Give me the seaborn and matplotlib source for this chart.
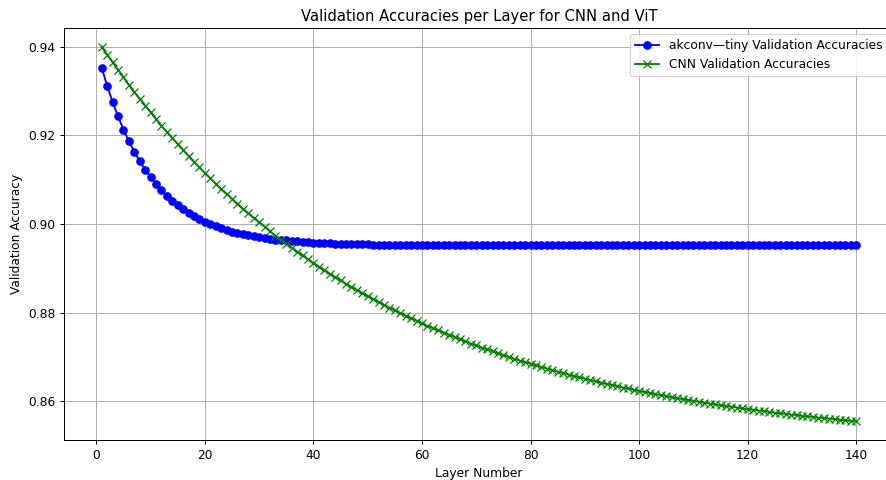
import matplotlib
matplotlib.use("Agg")
import matplotlib.pyplot as plt
import seaborn as sns

# Validation accuracy per layer
layers = list(range(1, 141))

akconv_acc = [
    0.9352, 0.9312, 0.9275, 0.9243, 0.9213, 0.9187, 0.9163, 0.9142, 0.9123, 0.9106,
    0.9090, 0.9076, 0.9064, 0.9052, 0.9042, 0.9033, 0.9025, 0.9018, 0.9011, 0.9005,
    0.9000, 0.8995, 0.8991, 0.8987, 0.8983, 0.8980, 0.8977, 0.8975, 0.8972, 0.8970,
    0.8968, 0.8967, 0.8965, 0.8964, 0.8963, 0.8962, 0.8961, 0.8960, 0.8959, 0.8958,
    0.8958, 0.8957, 0.8957, 0.8956, 0.8956, 0.8955, 0.8955, 0.8955, 0.8954, 0.8954,
    0.8952, 0.8952, 0.8952, 0.8952, 0.8952, 0.8952, 0.8952, 0.8952, 0.8952, 0.8952,
    0.8952, 0.8952, 0.8952, 0.8952, 0.8952, 0.8952, 0.8952, 0.8952, 0.8952, 0.8952,
    0.8952, 0.8952, 0.8952, 0.8952, 0.8952, 0.8952, 0.8952, 0.8952, 0.8952, 0.8952,
    0.8952, 0.8952, 0.8952, 0.8952, 0.8952, 0.8952, 0.8952, 0.8952, 0.8952, 0.8952,
    0.8952, 0.8952, 0.8952, 0.8952, 0.8952, 0.8952, 0.8952, 0.8952, 0.8952, 0.8952,
    0.8952, 0.8952, 0.8952, 0.8952, 0.8952, 0.8952, 0.8952, 0.8952, 0.8952, 0.8952,
    0.8952, 0.8952, 0.8952, 0.8952, 0.8952, 0.8952, 0.8952, 0.8952, 0.8952, 0.8952,
    0.8952, 0.8952, 0.8952, 0.8952, 0.8952, 0.8952, 0.8952, 0.8952, 0.8952, 0.8952,
    0.8952, 0.8952, 0.8952, 0.8952, 0.8952, 0.8952, 0.8952, 0.8952, 0.8952, 0.8952,
]

cnn_acc = [
    0.9400, 0.9382, 0.9365, 0.9348, 0.9331, 0.9314, 0.9298, 0.9282, 0.9267, 0.9252,
    0.9237, 0.9222, 0.9208, 0.9194, 0.9180, 0.9167, 0.9153, 0.9140, 0.9128, 0.9115,
    0.9103, 0.9091, 0.9079, 0.9068, 0.9057, 0.9046, 0.9035, 0.9024, 0.9014, 0.9004,
    0.8994, 0.8984, 0.8974, 0.8965, 0.8956, 0.8947, 0.8938, 0.8929, 0.8920, 0.8912,
    0.8904, 0.8896, 0.8888, 0.8880, 0.8873, 0.8865, 0.8858, 0.8851, 0.8844, 0.8837,
    0.8831, 0.8824, 0.8818, 0.8811, 0.8805, 0.8799, 0.8793, 0.8787, 0.8782, 0.8776,
    0.8770, 0.8765, 0.8760, 0.8755, 0.8750, 0.8745, 0.8740, 0.8735, 0.8730, 0.8726,
    0.8721, 0.8717, 0.8713, 0.8708, 0.8704, 0.8700, 0.8696, 0.8692, 0.8688, 0.8685,
    0.8681, 0.8677, 0.8674, 0.8670, 0.8667, 0.8664, 0.8660, 0.8657, 0.8654, 0.8651,
    0.8648, 0.8645, 0.8642, 0.8639, 0.8637, 0.8634, 0.8631, 0.8629, 0.8626, 0.8623,
    0.8621, 0.8619, 0.8616, 0.8614, 0.8612, 0.8609, 0.8607, 0.8605, 0.8603, 0.8601,
    0.8599, 0.8597, 0.8595, 0.8593, 0.8591, 0.8589, 0.8588, 0.8586, 0.8584, 0.8582,
    0.8581, 0.8579, 0.8578, 0.8576, 0.8574, 0.8573, 0.8572, 0.8570, 0.8569, 0.8567,
    0.8566, 0.8565, 0.8563, 0.8562, 0.8561, 0.8560, 0.8558, 0.8557, 0.8556, 0.8555,
]

# original looks like a 10in figure shrunk to 886px, so use a lower dpi
fig = plt.figure(figsize=(10, 480 / 88.6), dpi=88.6)
# axes run a little past the right edge, like the cropped original
ax = fig.add_axes([64 / 886, 40 / 480, 830 / 886, 412 / 480])

sns.lineplot(x=layers, y=akconv_acc, ax=ax, color="blue", marker="o",
             markersize=6, markeredgecolor="blue", markeredgewidth=1,
             label="akconv\u2014tiny Validation Accuracies")
sns.lineplot(x=layers, y=cnn_acc, ax=ax, color="green", marker="x",
             markersize=6, markeredgecolor="green", markeredgewidth=1,
             label="CNN Validation Accuracies")

ax.set_title("Validation Accuracies per Layer for CNN and ViT", fontsize=12)
ax.set_xlabel("Layer Number", fontsize=10)
ax.set_ylabel("Validation Accuracy", fontsize=10)
ax.set_xticks([0, 20, 40, 60, 80, 100, 120, 140])
ax.set_yticks([0.86, 0.88, 0.90, 0.92, 0.94])
ax.grid(True)
ax.legend(loc="upper right")

fig.savefig("out.png", dpi=88.6)
